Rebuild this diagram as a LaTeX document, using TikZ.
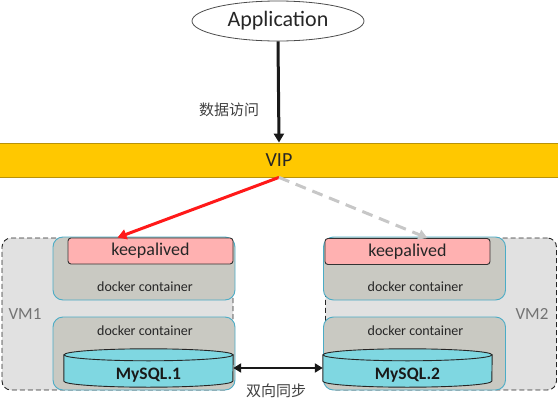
\documentclass[tikz,border=0pt]{standalone}
\usepackage{fontspec}
\setmainfont{Carlito}
\newfontfamily\cjk{Noto Sans CJK SC}
\usetikzlibrary{shapes.geometric,arrows.meta}

\definecolor{vipgold}{HTML}{FFC800}
\definecolor{vipedge}{HTML}{B8920A}
\definecolor{vmgray}{HTML}{E1E1E1}
\definecolor{dockgray}{HTML}{C9C9C2}
\definecolor{dockedge}{HTML}{4BACC6}
\definecolor{keeppink}{HTML}{FFB1B1}
\definecolor{dbcyan}{HTML}{7FD7E1}
\definecolor{txtdark}{HTML}{262626}

\begin{document}
\begin{tikzpicture}[x=1pt, y=-1pt, line join=round, text=txtdark,
    vmbox/.style={draw=black!85, line width=0.9pt, dash pattern=on 5pt off 3pt, fill=vmgray, rounded corners=9pt, minimum width=231pt, minimum height=152pt},
    dockbox/.style={draw=dockedge, line width=0.9pt, fill=dockgray, rounded corners=10pt, minimum width=182pt},
    keepbox/.style={draw=black!80, line width=0.9pt, fill=keeppink, rounded corners=3pt, minimum width=165pt, minimum height=26pt, font=\fontsize{18}{20}\selectfont},
    dbbody/.style={minimum width=169pt, minimum height=26pt, inner sep=0pt},
    dbfill/.style={draw=black!85, line width=0.9pt, fill=dbcyan},
    small/.style={font=\fontsize{14}{16}\selectfont},
    vmlabel/.style={text=black!55, font=\fontsize{17}{19}\selectfont}]

    \useasboundingbox (0,0) rectangle (558,410);

    % Application et VIP
    \node[draw=black!70, line width=0.8pt, ellipse, minimum width=172pt, minimum height=40pt, font=\fontsize{22}{24}\selectfont] (app) at (278,21) {Application};
    \node[draw=vipedge, line width=0.8pt, fill=vipgold, minimum width=560pt, minimum height=34pt, font=\fontsize{20}{22}\selectfont] (vip) at (279,160) {VIP};
    \node[font=\cjk\fontsize{15}{17}\selectfont, text=black!75] (acces) at (229,110) {数据访问};

    % Machines virtuelles
    \node[vmbox] (vmA) at (117.5,314) {};
    \node[vmbox] (vmB) at (441,314) {};
    \node[vmlabel] (vmAlbl) at (25,314) {VM1};
    \node[vmlabel] (vmBlbl) at (532,314) {VM2};

    % Conteneurs docker
    \node[dockbox, minimum height=63pt] (dockA) at (144,268.5) {};
    \node[dockbox, minimum height=73pt] (dockC) at (144,353.5) {};
    \node[dockbox, minimum height=63pt] (dockB) at (414.5,268.5) {};
    \node[dockbox, minimum height=73pt] (dockD) at (414.5,353.5) {};
    \node[small] (dockAlbl) at (145,287) {docker container};
    \node[small] (dockClbl) at (145,331) {docker container};
    \node[small] (dockBlbl) at (415.5,287) {docker container};
    \node[small] (dockDlbl) at (415.5,331) {docker container};

    % keepalived
    \node[keepbox] (keepA) at (150.5,251) {keepalived};
    \node[keepbox] (keepB) at (407.5,251.5) {keepalived};

    % Bases MySQL (cylindres)
    \node[dbbody] (mysqlA) at (148.5,368) {};
    \node[dbbody] (mysqlB) at (407.5,368) {};
    \foreach \db in {mysqlA, mysqlB} {
        \path[dbfill] (\db.north west) -- (\db.south west) arc[start angle=180, end angle=360, x radius=84.5pt, y radius=6pt] -- (\db.north east) -- cycle;
        \path[dbfill] (\db.north) ellipse[x radius=84.5pt, y radius=6pt];
    }
    \node[font=\bfseries\fontsize{17.5}{19}\selectfont, text=black!90] (mysqlAlbl) at ([yshift=-7pt]mysqlA.center) {MySQL.1};
    \node[font=\bfseries\fontsize{17.5}{19}\selectfont, text=black!90] (mysqlBlbl) at ([yshift=-7pt]mysqlB.center) {MySQL.2};

    % Fleches
    \draw[black!90, line width=3pt, -{Triangle[length=9pt, width=10pt]}] (app.south) -- (vip.north);
    \draw[red!90, line width=3pt, -{Triangle[length=9pt, width=10pt]}] (vip.south) -- ([xshift=-33pt]keepA.north);
    \draw[black!22, line width=3pt, dash pattern=on 11pt off 7pt, -{Triangle[length=9pt, width=10pt]}] (vip.south) -- ([xshift=20pt]keepB.north);
    \draw[black!90, line width=2.5pt, {Triangle[length=8pt, width=9pt]}-{Triangle[length=8pt, width=9pt]}] (mysqlA.east) -- (mysqlB.west);
    \node[font=\cjk\fontsize{15}{17}\selectfont, text=black!75] (sync) at (276,391) {双向同步};

\end{tikzpicture}
\end{document}
